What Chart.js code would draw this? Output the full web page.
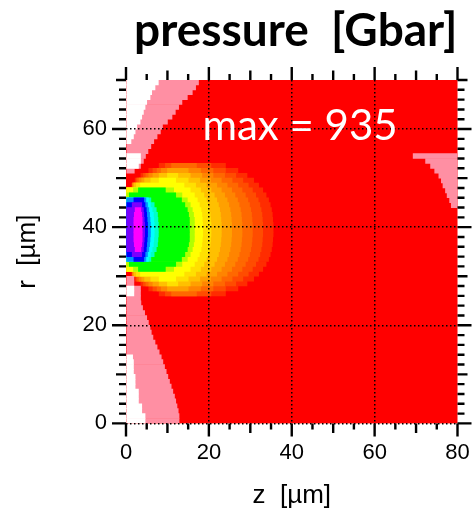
<!DOCTYPE html>
<html>
<head>
<meta charset="utf-8">
<script src="https://cdn.jsdelivr.net/npm/chart.js@4.4.1/dist/chart.umd.min.js"></script>
<style>
  html, body { margin: 0; padding: 0; background: #fff; }
</style>
</head>
<body>
<canvas id="pres-map" width="473" height="512"></canvas>
<script>
"use strict";

// axes
var zRange = [0, 80];
var rRange = [0, 70];
var xTicks = [0, 20, 40, 60, 80];
var yTicks = [0, 20, 40, 60];

// colours of the field
var fieldColor = '#ff0000';
var pinkColor = '#ff8fa3';
var whiteColor = '#ffffff';

// hot spot at the left edge, rows mirrored about hotCentre (1 um rows)
var hotCentre = 39.5;
var levelColors = ['#ff2c00', '#ff4c00', '#ff6800', '#ff8400', '#ffa000', '#ffc000', '#ffe000', '#ffff00',
                   '#b0ff00', '#00ff00', '#00ffc8', '#00ffff', '#0090ff', '#0000ff', '#7a00ff', '#ff00ff'];
// per level, per row offset k: [z start, z end]
var levelSpans = [
  [[0,35.5],[0,35.5],[0,35.4],[0,35.3],[0,35.1],[0,34.8],[0,34.4],[0,33.8],[0,33],[1.5,32],[2.2,30.8],[3.6,29.2],[5.5,27],[8,24]],
  [[0,33],[0,33],[0,32.9],[0,32.8],[0,32.6],[0,32.3],[0,31.9],[0,31.3],[0,30.5],[1.5,29.5],[2.5,28.2],[4.2,26.5],[6.5,24],[9.5,20.5]],
  [[0,30.5],[0,30.5],[0,30.4],[0,30.3],[0,30.1],[0,29.8],[0,29.4],[0,28.8],[0,28],[1.5,27],[2.8,25.6],[4.8,23.8],[7.5,21],[11,17]],
  [[0,28],[0,28],[0,27.9],[0,27.8],[0,27.6],[0,27.3],[0,26.9],[0,26.3],[0,25.5],[1.6,24.4],[3.2,23],[5.5,21],[8.5,18]],
  [[0,25.5],[0,25.5],[0,25.4],[0,25.3],[0,25.1],[0,24.8],[0,24.4],[0,23.8],[0,23],[1.8,21.9],[3.8,20.4],[6.5,18.3],[10,15]],
  [[0,23],[0,23],[0,22.9],[0,22.8],[0,22.6],[0,22.3],[0,21.9],[0,21.3],[0,20.5],[2,19.4],[4.5,17.8],[8,15.5]],
  [[0,20.5],[0,20.5],[0,20.4],[0,20.3],[0,20.1],[0,19.8],[0,19.4],[0,18.8],[0,18],[2.5,16.8],[6,15],[10,12.5]],
  [[0,18.5],[0,18.5],[0,18.4],[0,18.3],[0,18.1],[0,17.7],[0,17.2],[0,16.5],[0,15.5],[3.5,14],[8,12]],
  [[0,16.5],[0,16.5],[0,16.5],[0,16.3],[0,16],[0,15.5],[0,14.8],[0,13.5],[1.8,11.5]],
  [[0,15.3],[0,15.3],[0,15.3],[0,15.1],[0,14.8],[0,14.2],[0,13.4],[0.8,12],[3,9.5]],
  [[0,7.8],[0,7.8],[0,7.7],[0,7.6],[0,7.3],[0,6.8],[0,6]],
  [[0,6.8],[0,6.8],[0,6.7],[0,6.6],[0,6.3],[0,5.9],[0,5.4]],
  [[0,5.9],[0,5.9],[0,5.8],[0,5.7],[0,5.5],[0,5.2],[0,4.8]],
  [[0,5.2],[0,5.2],[0,5.1],[0,5],[0,4.9],[0,4.6],[1.9,4.3]],
  [[0,4.5],[0,4.5],[0,4.4],[0,4.3],[0,4.2],[1.5,3.8]],
  [[1.9,3.9],[1.9,3.9],[1.9,3.9],[2,3.8],[2.2,3.6]]
];

// low pressure strips along the left edge (row centre, white end, pink end)
var leftRows = [69.5, 68.5, 67.5, 66.5, 65.5, 64.5, 63.5, 62.5, 61.5, 60.5, 59.5, 58.5, 57.5, 56.5, 55.5,
                54.5, 53.5, 52.5, 51.5,
                29.5, 28.5, 27.5, 26.5, 25.5, 24.5, 23.5, 22.5, 21.5, 20.5, 19.5, 18.5, 17.5, 16.5, 15.5,
                14.5, 13.5, 12.5, 11.5, 10.5, 9.5, 8.5, 7.5, 6.5, 5.5, 4.5, 3.5, 2.5, 1.5, 0.5];
var whiteEnd = [7.8, 7.0, 6.2, 5.8, 5.0, 4.6, 4.2, 3.8, 3.4, 2.6, 2.2, 1.8, 1.2, 0, 0,
                3.5, 3.5, 3.0, 0,
                0, 0, 1.9, 1.9, 0, 0, 0, 0, 0, 0, 0, 0, 0, 0, 0,
                0, 1.6, 1.8, 1.8, 1.8, 2.2, 2.2, 2.2, 3.0, 3.0, 3.0, 3.8, 3.8, 4.6, 4.6];
var pinkEnd = [17.5, 16.8, 16.0, 14.8, 13.5, 12.7, 11.9, 11.1, 10.0, 8.8, 8.3, 7.5, 6.7, 6.0, 5.3,
               4.7, 4.2, 3.5, 2.0,
               1.9, 1.9, 3.5, 3.5, 3.5, 3.6, 4.0, 4.5, 5.0, 5.4, 5.8, 6.1, 6.5, 7.0, 7.5,
               8.0, 8.5, 8.9, 9.3, 9.7, 10.1, 10.5, 10.9, 11.3, 11.7, 12.0, 12.3, 12.6, 12.8, 12.8];

// pink wedge at the right edge
var rightRows = [54.5, 53.5, 52.5, 51.5, 50.5, 49.5, 48.5, 47.5, 46.5, 45.5, 44.5];
var rightPinkStart = [69.3, 72.3, 73.5, 74.5, 75.5, 76.1, 76.5, 77.1, 77.5, 78.1, 78.5];

var maxText = 'max = 935';
var maxLabelAt = [42, 60.6];

var datasets = [];

function addLayer(color, points)
{
  datasets.push({
    data: points,
    backgroundColor: color,
    borderWidth: 0,
    barPercentage: 1,
    categoryPercentage: 1,
    grouped: false,
    order: -datasets.length
  });
}

function buildLayers()
{
  for (var l = 0; l < levelSpans.length; l++) {
    var pts = [];
    for (var k = 0; k < levelSpans[l].length; k++) {
      var span = levelSpans[l][k];
      if (!span) continue;
      pts.push({y: hotCentre + k, x: span});
      if (k > 0) pts.push({y: hotCentre - k, x: span});
    }
    addLayer(levelColors[l], pts);
  }

  var pink = [], white = [], right = [];
  for (var i = 0; i < leftRows.length; i++) {
    if (pinkEnd[i] > 0) pink.push({y: leftRows[i], x: [0, pinkEnd[i]]});
    if (whiteEnd[i] > 0) white.push({y: leftRows[i], x: [0, whiteEnd[i]]});
  }
  for (var j = 0; j < rightRows.length; j++) {
    right.push({y: rightRows[j], x: [rightPinkStart[j], zRange[1]]});
  }
  addLayer(pinkColor, pink);
  addLayer(whiteColor, white);
  addLayer(pinkColor, right);
}

// red field under everything
var fieldFill = {
  id: 'fieldFill',
  beforeDatasetsDraw: function(chart) {
    var a = chart.chartArea;
    chart.ctx.save();
    chart.ctx.fillStyle = fieldColor;
    chart.ctx.fillRect(a.left, a.top, a.right - a.left, a.bottom - a.top);
    chart.ctx.restore();
  }
};

// outward tick marks on all four sides, plus the max label
var tickMarks = {
  id: 'tickMarks',
  afterDraw: function(chart) {
    var ctx = chart.ctx;
    var a = chart.chartArea;
    var sx = chart.scales.x, sy = chart.scales.y;
    ctx.save();
    ctx.strokeStyle = '#000';
    ctx.lineWidth = 2.4;
    ctx.beginPath();
    for (var z = zRange[0]; z <= zRange[1]; z += 5) {
      var lx = z % 20 === 0 ? 13 : (z % 10 === 0 ? 9.5 : 6);
      var px = sx.getPixelForValue(z);
      ctx.moveTo(px, a.bottom); ctx.lineTo(px, a.bottom + lx);
      ctx.moveTo(px, a.top); ctx.lineTo(px, a.top - lx);
    }
    for (var r = rRange[0]; r <= rRange[1]; r += 2) {
      var ly = r % 20 === 0 ? 14 : (r % 10 === 0 ? 10 : 7);
      var py = sy.getPixelForValue(r);
      ctx.moveTo(a.left, py); ctx.lineTo(a.left - ly, py);
      ctx.moveTo(a.right, py); ctx.lineTo(a.right + ly, py);
    }
    ctx.stroke();

    ctx.fillStyle = '#fff';
    ctx.font = '42px Lato, "DejaVu Sans", sans-serif';
    ctx.textAlign = 'center';
    ctx.textBaseline = 'middle';
    ctx.fillText(maxText, sx.getPixelForValue(maxLabelAt[0]), sy.getPixelForValue(maxLabelAt[1]));
    ctx.restore();
  }
};

buildLayers();

var tickFont = {family: '"Liberation Sans", Arial, sans-serif', size: 22};
var titleFont = {family: '"Liberation Sans", Arial, sans-serif', size: 26};

var chart = new Chart(document.getElementById('pres-map').getContext('2d'), {
  type: 'bar',
  data: { datasets: datasets },
  plugins: [fieldFill, tickMarks],
  options: {
    indexAxis: 'y',
    responsive: false,
    animation: false,
    devicePixelRatio: 1,
    events: [],
    layout: { padding: { left: 0, right: 15.5, top: 0, bottom: 0 } },
    plugins: {
      legend: { display: false },
      tooltip: { enabled: false },
      title: {
        display: true,
        text: 'pressure  [Gbar]',
        align: 'end',
        color: '#000',
        font: { family: 'Lato, "DejaVu Sans", sans-serif', size: 46, weight: 'bold' },
        padding: { top: 4, bottom: 20.8 }
      }
    },
    scales: {
      x: {
        type: 'linear',
        position: 'bottom',
        min: zRange[0],
        max: zRange[1],
        afterBuildTicks: function(s) { s.ticks = xTicks.map(function(v) { return {value: v}; }); },
        afterFit: function(s) { s.height = 88.6; s.paddingLeft = 0; s.paddingRight = 0; },
        grid: {
          z: 1,
          drawTicks: false,
          lineWidth: 1.5,
          color: function(c) { return (c.tick.value > zRange[0] && c.tick.value < zRange[1]) ? '#000' : 'rgba(0,0,0,0)'; }
        },
        border: { display: false, dash: [1.5, 2.5] },
        ticks: { color: '#000', font: tickFont, padding: 16.7, maxRotation: 0 },
        title: { display: true, text: 'z  [µm]', color: '#000', font: titleFont, padding: { top: 0, bottom: 1 } }
      },
      y: {
        type: 'linear',
        position: 'left',
        min: rRange[0],
        max: rRange[1],
        offset: false,
        afterBuildTicks: function(s) { s.ticks = yTicks.map(function(v) { return {value: v}; }); },
        afterFit: function(s) { s.width = 126; s.paddingTop = 0; s.paddingBottom = 0; },
        grid: {
          z: 1,
          offset: false,
          drawTicks: false,
          lineWidth: 1.5,
          color: '#000'
        },
        border: { display: false, dash: [1.5, 2.5] },
        ticks: { color: '#000', font: tickFont, padding: 19 },
        title: { display: true, text: 'r  [µm]', color: '#000', font: titleFont, padding: { top: 12, bottom: 0 } }
      }
    }
  }
});
</script>
</body>
</html>
